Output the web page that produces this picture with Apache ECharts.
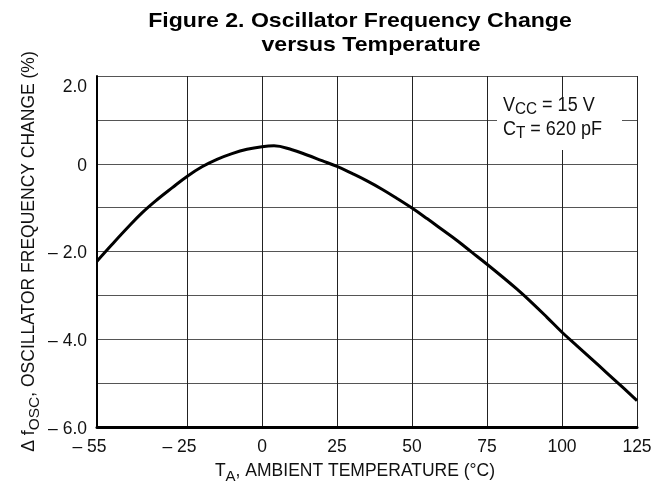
<!DOCTYPE html>
<html><head><meta charset="utf-8">
<script src="https://cdn.jsdelivr.net/npm/echarts@6/dist/echarts.min.js"></script>
<style>html,body{margin:0;padding:0;background:#fff}#c{width:667px;height:483px}</style>
</head><body><div id="c"></div>
<script>
// ---- data ----
const temperatures = [-55,-50,-45,-40,-35,-30,-25,-20,-15,-10,-5,0,4,10,15,20,25,30,35,40,45,50,55,60,65,70,75,80,85,90,95,100,105,110,115,120,125];
const freqChange   = [-2.22,-1.84,-1.47,-1.12,-0.82,-0.55,-0.29,-0.07,0.10,0.23,0.33,0.39,0.41,0.32,0.20,0.07,-0.06,-0.22,-0.39,-0.58,-0.79,-1.01,-1.25,-1.50,-1.75,-2.02,-2.29,-2.57,-2.86,-3.17,-3.50,-3.84,-4.15,-4.46,-4.77,-5.08,-5.40];
const xTickValues = [-55,-25,0,25,50,75,100,125];
const xTickLabels = ['\u2013 55','\u2013 25','0','25','50','75','100','125'];
const yTickValues = [-6,-4,-2,0,2];
const yTickLabels = ['\u2013 6.0','\u2013 4.0','\u2013 2.0','0','2.0'];
const titleLines = ['Figure 2. Oscillator Frequency Change','versus Temperature'];

const SANS = "'Liberation Sans',Arial,Helvetica,sans-serif";
const TXT = '#111';

const chart = echarts.init(document.getElementById('c'), null, {renderer:'canvas'});
chart.setOption({
  animation:false,
  backgroundColor:'#fff',
  grid:{left:97,right:30,top:76,bottom:56,containLabel:false,outerBoundsMode:'none'},
  xAxis:{
    type:'value', min:-55, max:125, interval:5,
    name:'{t|T}{s|A}{e|, AMBIENT TEMPERATURE (°C)}',
    nameLocation:'middle', nameGap:35,
    nameTextStyle:{rich:{
      t:{fontFamily:SANS,fontSize:17.5,color:TXT,lineHeight:18,verticalAlign:'top'},
      s:{fontFamily:SANS,fontSize:15,color:TXT,lineHeight:15,padding:[7,0,0,0],verticalAlign:'top'},
      e:{fontFamily:SANS,fontSize:17.5,color:TXT,lineHeight:18,verticalAlign:'top',padding:[0,24,0,0]}
    }},
    axisLine:{show:true,onZero:false,lineStyle:{color:'#000',width:3}},
    axisTick:{show:false,customValues:xTickValues},
    axisLabel:{
      customValues:xTickValues,
      margin:11,
      fontFamily:SANS,fontSize:17.5,color:TXT,
      formatter:function(v){
        const i = xTickValues.indexOf(v);
        if (i<0) return '';
        return v<0 ? '{n|'+xTickLabels[i]+'}' : '{p|'+xTickLabels[i]+'}';
      },
      rich:{
        n:{fontFamily:SANS,fontSize:17.5,color:TXT,padding:[0,15,0,0]},
        p:{fontFamily:SANS,fontSize:17.5,color:TXT}
      }
    },
    splitLine:{show:true,lineStyle:{color:'#222',width:1}}
  },
  yAxis:{
    type:'value', min:-6, max:2, interval:1,
    name:'{t|\u0394 f}{s|OSC}{t|, OSCILLATOR FREQUENCY CHANGE (%)}',
    nameLocation:'middle', nameGap:59, nameRotate:90, nameMoveOverlap:false,
    nameTextStyle:{rich:{
      t:{fontFamily:SANS,fontSize:17.5,color:TXT,lineHeight:18,verticalAlign:'top'},
      s:{fontFamily:SANS,fontSize:15.5,color:TXT,lineHeight:15,padding:[7,0,0,0],verticalAlign:'top'}
    }},
    axisLine:{show:true,onZero:false,lineStyle:{color:'#000',width:2}},
    axisTick:{show:false},
    axisLabel:{
      customValues:yTickValues,
      margin:10,
      fontFamily:SANS,fontSize:17.5,color:TXT,
      formatter:function(v){
        const i = yTickValues.indexOf(v);
        if (i<0) return '';
        return v===2 ? '{top|'+yTickLabels[i]+'}' : '{r|'+yTickLabels[i]+'}';
      },
      rich:{
        top:{fontFamily:SANS,fontSize:17.5,color:TXT,padding:[22,0,0,0]},
        r:{fontFamily:SANS,fontSize:17.5,color:TXT,padding:[4,0,0,0]}
      }
    },
    splitLine:{show:true,lineStyle:{color:'#555',width:1}}
  },
  graphic:[
    {type:'text',x:360,y:11,z:20,scaleX:1.1,style:{text:titleLines[0],font:'bold 21px '+SANS,fill:'#000',align:'center'}},
    {type:'text',x:371,y:35,z:20,scaleX:1.1,style:{text:titleLines[1],font:'bold 21px '+SANS,fill:'#000',align:'center'}},
    {type:'rect',z:10,shape:{x:497,y:97,width:125,height:53},style:{fill:'#fff'}},
    {type:'text',x:503,y:95,z:11,scaleX:0.9,style:{
      text:'{m|V}{s|CC}{m| = 15 V}',
      rich:{
        m:{fontFamily:SANS,fontSize:20,lineHeight:20,verticalAlign:'top',fill:TXT},
        s:{fontFamily:SANS,fontSize:17,lineHeight:17,padding:[6,0,0,0],verticalAlign:'top',fill:TXT}
      }}},
    {type:'text',x:503,y:119,z:11,scaleX:0.9,style:{
      text:'{m|C}{s|T}{m| = 620 pF}',
      rich:{
        m:{fontFamily:SANS,fontSize:20,lineHeight:20,verticalAlign:'top',fill:TXT},
        s:{fontFamily:SANS,fontSize:17,lineHeight:17,padding:[6,0,0,0],verticalAlign:'top',fill:TXT}
      }}}
  ],
  series:[{
    type:'line',
    data:temperatures.map((t,i)=>[t,freqChange[i]]),
    smooth:0.4, symbol:'none', z:5,
    lineStyle:{color:'#000',width:3}
  }]
});
</script>
</body></html>
